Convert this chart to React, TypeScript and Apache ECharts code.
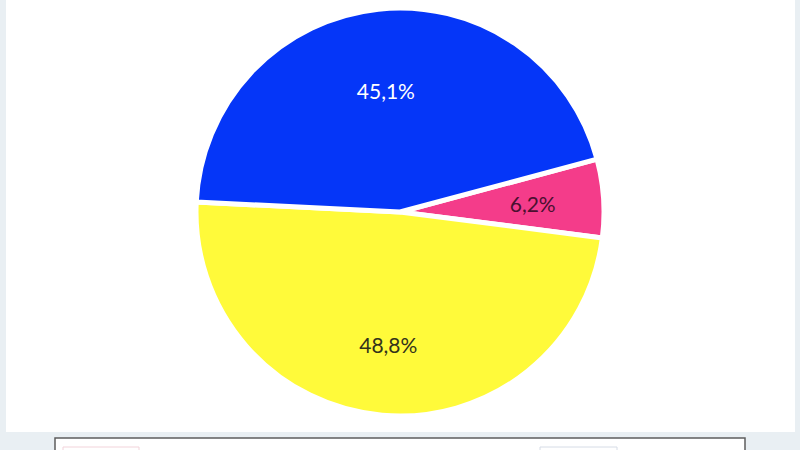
import React, { useEffect, useRef } from "react";
import * as echarts from "echarts";

const categories = ["Categoría A", "Categoría B", "Categoría C"];
const values = [6.2, 48.8, 45.1];
const colors = ["#f43c8a", "#fffa3a", "#0536f8"];
const labelColors = ["#4a1030", "#33331a", "#ffffff"];

const fmt = (v: number) => `${v.toFixed(1).replace(".", ",")}%`;

export default function App() {
  const ref = useRef<HTMLDivElement>(null);
  useEffect(() => {
    if (!ref.current) return;
    const chart = echarts.init(ref.current, undefined, { renderer: "svg" });
    const data = categories.map((name, i) => ({
      name,
      value: values[i],
      itemStyle: { color: colors[i] },
    }));
    const labelData = categories.map((name, i) => ({
      name,
      value: values[i],
      label: { color: labelColors[i] },
    }));
    chart.setOption({
      animation: false,
      backgroundColor: "#e9eff3",
      graphic: [
        {
          type: "rect",
          z: 0,
          shape: { x: 6, y: 0, width: 789, height: 432 },
          style: { fill: "#ffffff" },
        },
        {
          type: "rect",
          z: 0,
          shape: { x: 55, y: 438, width: 690, height: 30 },
          style: { fill: "#ffffff", stroke: "#5e5e5e", lineWidth: 1.5 },
        },
        {
          type: "rect",
          z: 1,
          shape: { x: 63, y: 447, width: 76, height: 12 },
          style: { fill: "#ffffff", stroke: "#f2d3da", lineWidth: 1 },
        },
        {
          type: "rect",
          z: 1,
          shape: { x: 540, y: 447, width: 77, height: 12 },
          style: { fill: "#ffffff", stroke: "#d6dce6", lineWidth: 1 },
        },
      ],
      series: [
        {
          type: "pie",
          center: [400, 212],
          radius: 204,
          startAngle: 15,
          clockwise: true,
          data,
          itemStyle: { borderColor: "#ffffff", borderWidth: 5 },
          label: { show: false },
          labelLine: { show: false },
          silent: true,
        },
        {
          type: "pie",
          center: [400, 212],
          radius: [60, 200],
          startAngle: 15,
          clockwise: true,
          data: labelData,
          silent: true,
          z: 5,
          avoidLabelOverlap: false,
          itemStyle: { color: "rgba(0,0,0,0)", borderWidth: 0 },
          label: {
            show: true,
            position: "inside",
            fontFamily: "Lato",
            fontSize: 21,
            formatter: (p: any) => fmt(p.value),
          },
          labelLayout: (p: any) => (p.dataIndex === 2 ? { dy: 11 } : {}),
          labelLine: { show: false },
        },
      ],
    });
    return () => chart.dispose();
  }, []);
  return (
    <div
      ref={ref}
      style={{ position: "fixed", left: 0, top: 0, width: 800, height: 450 }}
    />
  );
}
